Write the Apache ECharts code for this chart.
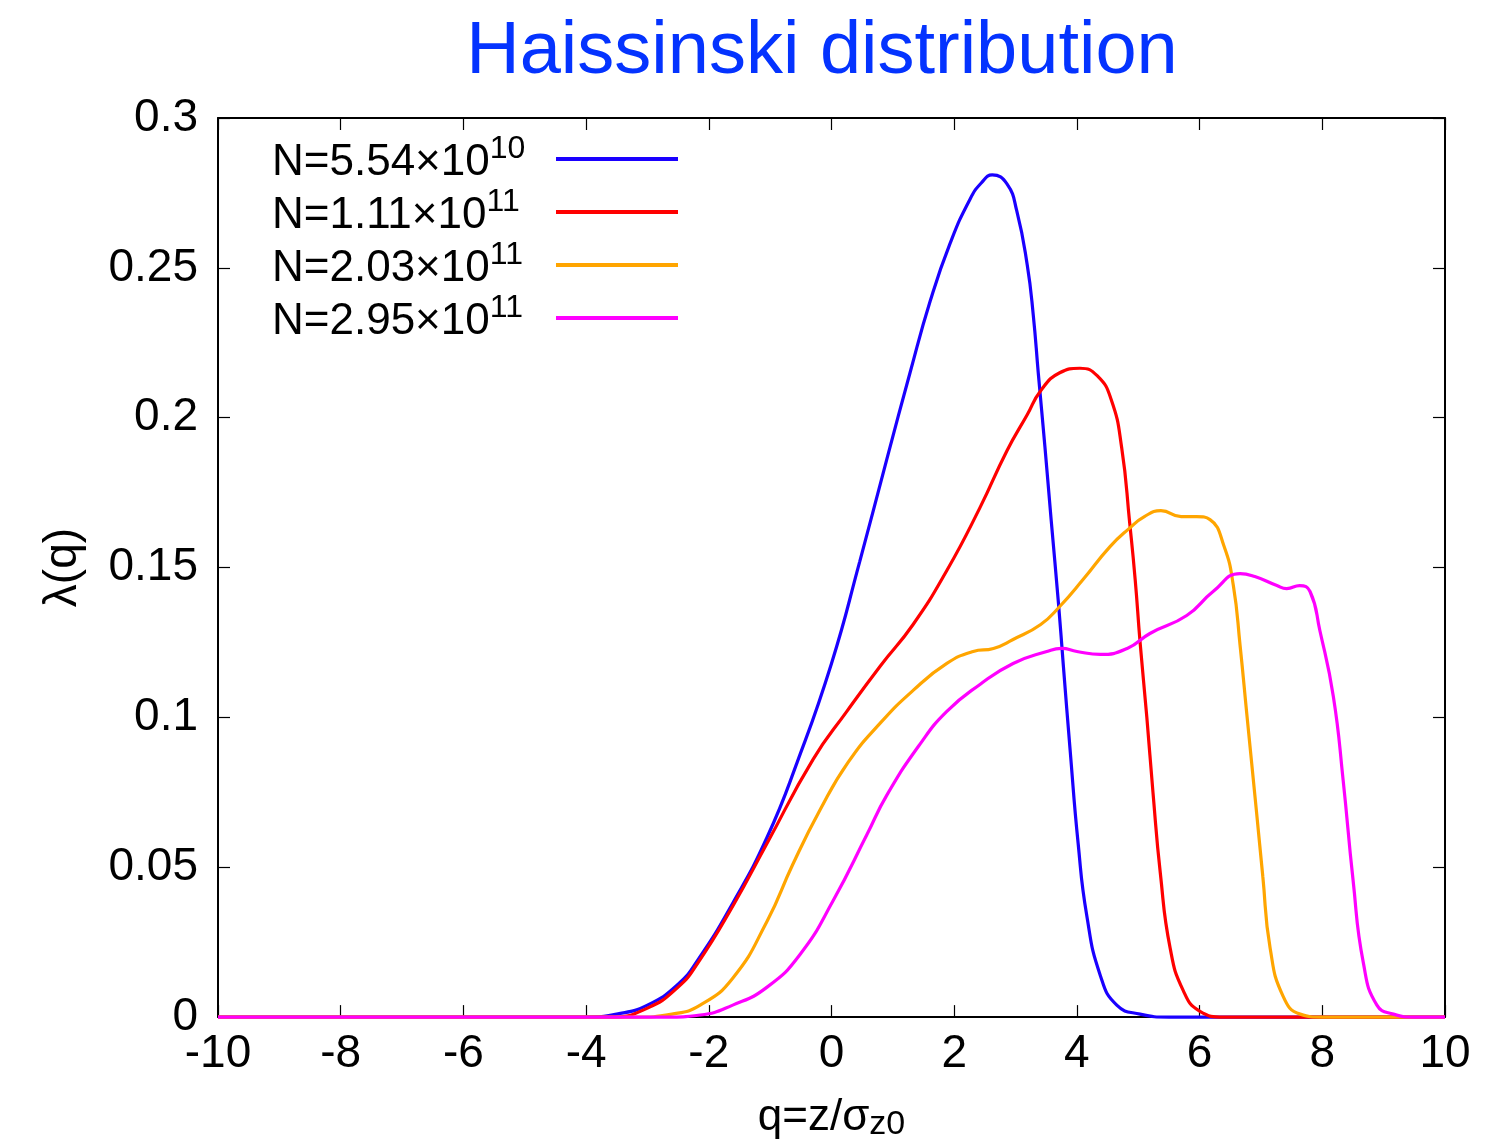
<!DOCTYPE html>
<html>
<head>
<meta charset="utf-8">
<script src="https://cdn.jsdelivr.net/npm/echarts@6/dist/echarts.min.js"></script>
<style>
  html, body { margin: 0; padding: 0; background: #ffffff; }
  #chart { width: 1485px; height: 1147px; }
</style>
</head>
<body>
<div id="chart"></div>
<script>
// Haissinski longitudinal bunch profiles lambda(q), q = z / sigma_z0
const xTicks = [-10, -8, -6, -4, -2, 0, 2, 4, 6, 8, 10];
const yTicks = [0, 0.05, 0.1, 0.15, 0.2, 0.25, 0.3];

const seriesBase = ['N=5.54×10', 'N=1.11×10', 'N=2.03×10', 'N=2.95×10'];
const seriesExp = ['10', '11', '11', '11'];
const seriesColors = ['#1a00ff', '#ff0000', '#ffa500', '#ff00ff'];

// N = 5.54e10
const q1 = [-10, -4, -3.5, -3, -2.5, -2.18, -1.61, -1.05, -0.56, 0, 0.46, 0.9, 1.28, 1.61, 1.93, 2.26, 2.45, 2.62, 2.86, 3.02, 3.19, 3.29, 3.37, 3.48, 3.58, 3.7, 3.78, 3.89, 4.02, 4.16, 4.38, 4.65, 5.03, 5.5, 10];
const v1 = [0, 0, 0.001, 0.004, 0.011, 0.019, 0.038, 0.060, 0.085, 0.118, 0.152, 0.186, 0.215, 0.239, 0.258, 0.273, 0.2785, 0.281, 0.278, 0.269, 0.251, 0.234, 0.215, 0.190, 0.166, 0.138, 0.117, 0.089, 0.058, 0.034, 0.014, 0.004, 0.001, 0, 0];

// N = 1.11e11
const q2 = [-10, -3.6, -3, -2.5, -2.18, -1.61, -1.05, -0.3, 0.25, 0.79, 1.33, 1.88, 2.42, 2.86, 3.19, 3.41, 3.72, 4.05, 4.33, 4.56, 4.73, 4.86, 4.95, 5.03, 5.14, 5.24, 5.36, 5.52, 5.73, 6.0, 6.4, 10];
const v2 = [0, 0, 0.003, 0.010, 0.018, 0.037, 0.058, 0.086, 0.102, 0.117, 0.131, 0.149, 0.170, 0.189, 0.201, 0.209, 0.215, 0.2165, 0.214, 0.206, 0.190, 0.165, 0.146, 0.125, 0.100, 0.075, 0.048, 0.023, 0.009, 0.002, 0, 0];

// N = 2.03e11
const q3 = [-10, -3.2, -2.6, -2.14, -1.61, -1.05, -0.63, -0.19, 0.27, 0.79, 1.33, 1.88, 2.31, 2.64, 2.96, 3.41, 3.72, 4.1, 4.54, 4.85, 5.1, 5.37, 5.7, 5.95, 6.17, 6.4, 6.55, 6.66, 6.77, 6.93, 7.03, 7.15, 7.36, 7.64, 8.0, 10];
const v3 = [0, 0, 0.001, 0.004, 0.013, 0.032, 0.051, 0.069, 0.085, 0.098, 0.109, 0.118, 0.122, 0.123, 0.126, 0.131, 0.137, 0.146, 0.157, 0.163, 0.167, 0.169, 0.167, 0.167, 0.166, 0.157, 0.144, 0.124, 0.101, 0.068, 0.047, 0.023, 0.007, 0.001, 0, 0];

// N = 2.95e11
const q4 = [-10, -2.7, -2.14, -1.61, -1.05, -0.51, 0.03, 0.58, 0.9, 1.44, 1.88, 2.42, 2.96, 3.51, 3.75, 4.0, 4.38, 4.82, 5.19, 5.79, 6.22, 6.66, 6.9, 7.26, 7.42, 7.63, 7.8, 7.96, 8.18, 8.34, 8.5, 8.67, 8.89, 9.16, 9.5, 10];
const v4 = [0, 0, 0.0007, 0.004, 0.010, 0.021, 0.039, 0.061, 0.074, 0.091, 0.102, 0.111, 0.118, 0.122, 0.123, 0.122, 0.121, 0.123, 0.128, 0.134, 0.142, 0.148, 0.147, 0.144, 0.143, 0.144, 0.142, 0.129, 0.107, 0.079, 0.046, 0.018, 0.004, 0.001, 0, 0];

const qs = [q1, q2, q3, q4];
const vs = [v1, v2, v3, v4];

const FONT = '"Liberation Sans", Arial, Helvetica, sans-serif';

function pairs(q, v) {
  return q.map((x, i) => [x, v[i]]);
}

const names = seriesBase.map((b, i) => b + '^' + seriesExp[i]);

const frameAxisLine = { show: true, onZero: false, lineStyle: { color: '#000', width: 2 } };
const innerTick = { show: true, inside: true, length: 12, lineStyle: { color: '#000', width: 1.2 } };

const chart = echarts.init(document.getElementById('chart'), null, { renderer: 'canvas' });

chart.setOption({
  backgroundColor: '#ffffff',
  animation: false,
  title: {
    text: 'Haissinski distribution',
    left: 817,
    textAlign: 'center',
    top: 11,
    textStyle: { color: '#0433ff', fontSize: 74, fontWeight: 'normal', fontFamily: FONT }
  },
  grid: { left: 218, right: 40, top: 118, bottom: 127, containLabel: false },
  legend: {
    orient: 'vertical',
    left: 267,
    top: 128,
    align: 'right',
    icon: 'rect',
    itemWidth: 122,
    itemHeight: 4,
    itemGap: 1,
    data: names,
    formatter: function (name) {
      const i = names.indexOf(name);
      return '{b|' + seriesBase[i] + '}{s|' + seriesExp[i] + '}';
    },
    textStyle: {
      width: 253,
      padding: [0, 26, 0, 0],
      rich: {
        b: { fontSize: 44, fontFamily: FONT, color: '#000', lineHeight: 52, verticalAlign: 'bottom', align: 'left' },
        s: { fontSize: 32, fontFamily: FONT, color: '#000', lineHeight: 30, verticalAlign: 'top', align: 'left' }
      }
    }
  },
  xAxis: [
    {
      type: 'value',
      min: -10, max: 10, interval: 2,
      position: 'bottom',
      axisLine: frameAxisLine,
      axisTick: innerTick,
      splitLine: { show: false },
      axisLabel: {
        show: true, margin: 14, color: '#000', fontSize: 46, fontFamily: FONT,
        customValues: xTicks,
        formatter: v => String(v)
      },
      name: '{a|q=z/σ}{s|z0}',
      nameLocation: 'middle',
      nameGap: 70,
      nameTextStyle: {
        rich: {
          a: { fontSize: 44, fontFamily: FONT, color: '#000', verticalAlign: 'top', lineHeight: 46 },
          s: { fontSize: 34, fontFamily: FONT, color: '#000', verticalAlign: 'bottom', lineHeight: 32, padding: [26, 0, 0, 0] }
        }
      }
    },
    {
      type: 'value',
      min: -10, max: 10, interval: 2,
      position: 'top',
      axisLine: frameAxisLine,
      axisTick: innerTick,
      axisLabel: { show: false },
      splitLine: { show: false }
    }
  ],
  yAxis: [
    {
      type: 'value',
      min: 0, max: 0.3, interval: 0.05,
      position: 'left',
      axisLine: frameAxisLine,
      axisTick: innerTick,
      splitLine: { show: false },
      axisLabel: {
        show: true, margin: 20, color: '#000', fontSize: 46, fontFamily: FONT,
        customValues: yTicks,
        formatter: v => String(Math.round(v * 100) / 100)
      },
      name: 'λ(q)',
      nameLocation: 'middle',
      nameRotate: 90,
      nameGap: 132,
      nameTextStyle: { fontSize: 46, fontFamily: FONT, color: '#000' }
    },
    {
      type: 'value',
      min: 0, max: 0.3, interval: 0.05,
      position: 'right',
      axisLine: frameAxisLine,
      axisTick: innerTick,
      axisLabel: { show: false },
      splitLine: { show: false }
    }
  ],
  series: names.map((name, i) => ({
    name: name,
    type: 'line',
    xAxisIndex: 0,
    yAxisIndex: 0,
    data: pairs(qs[i], vs[i]),
    showSymbol: false,
    symbol: 'none',
    smooth: 0.5,
    clip: false,
    color: seriesColors[i],
    lineStyle: { color: seriesColors[i], width: 3.2 },
    z: 3 + i
  }))
});
</script>
</body>
</html>
